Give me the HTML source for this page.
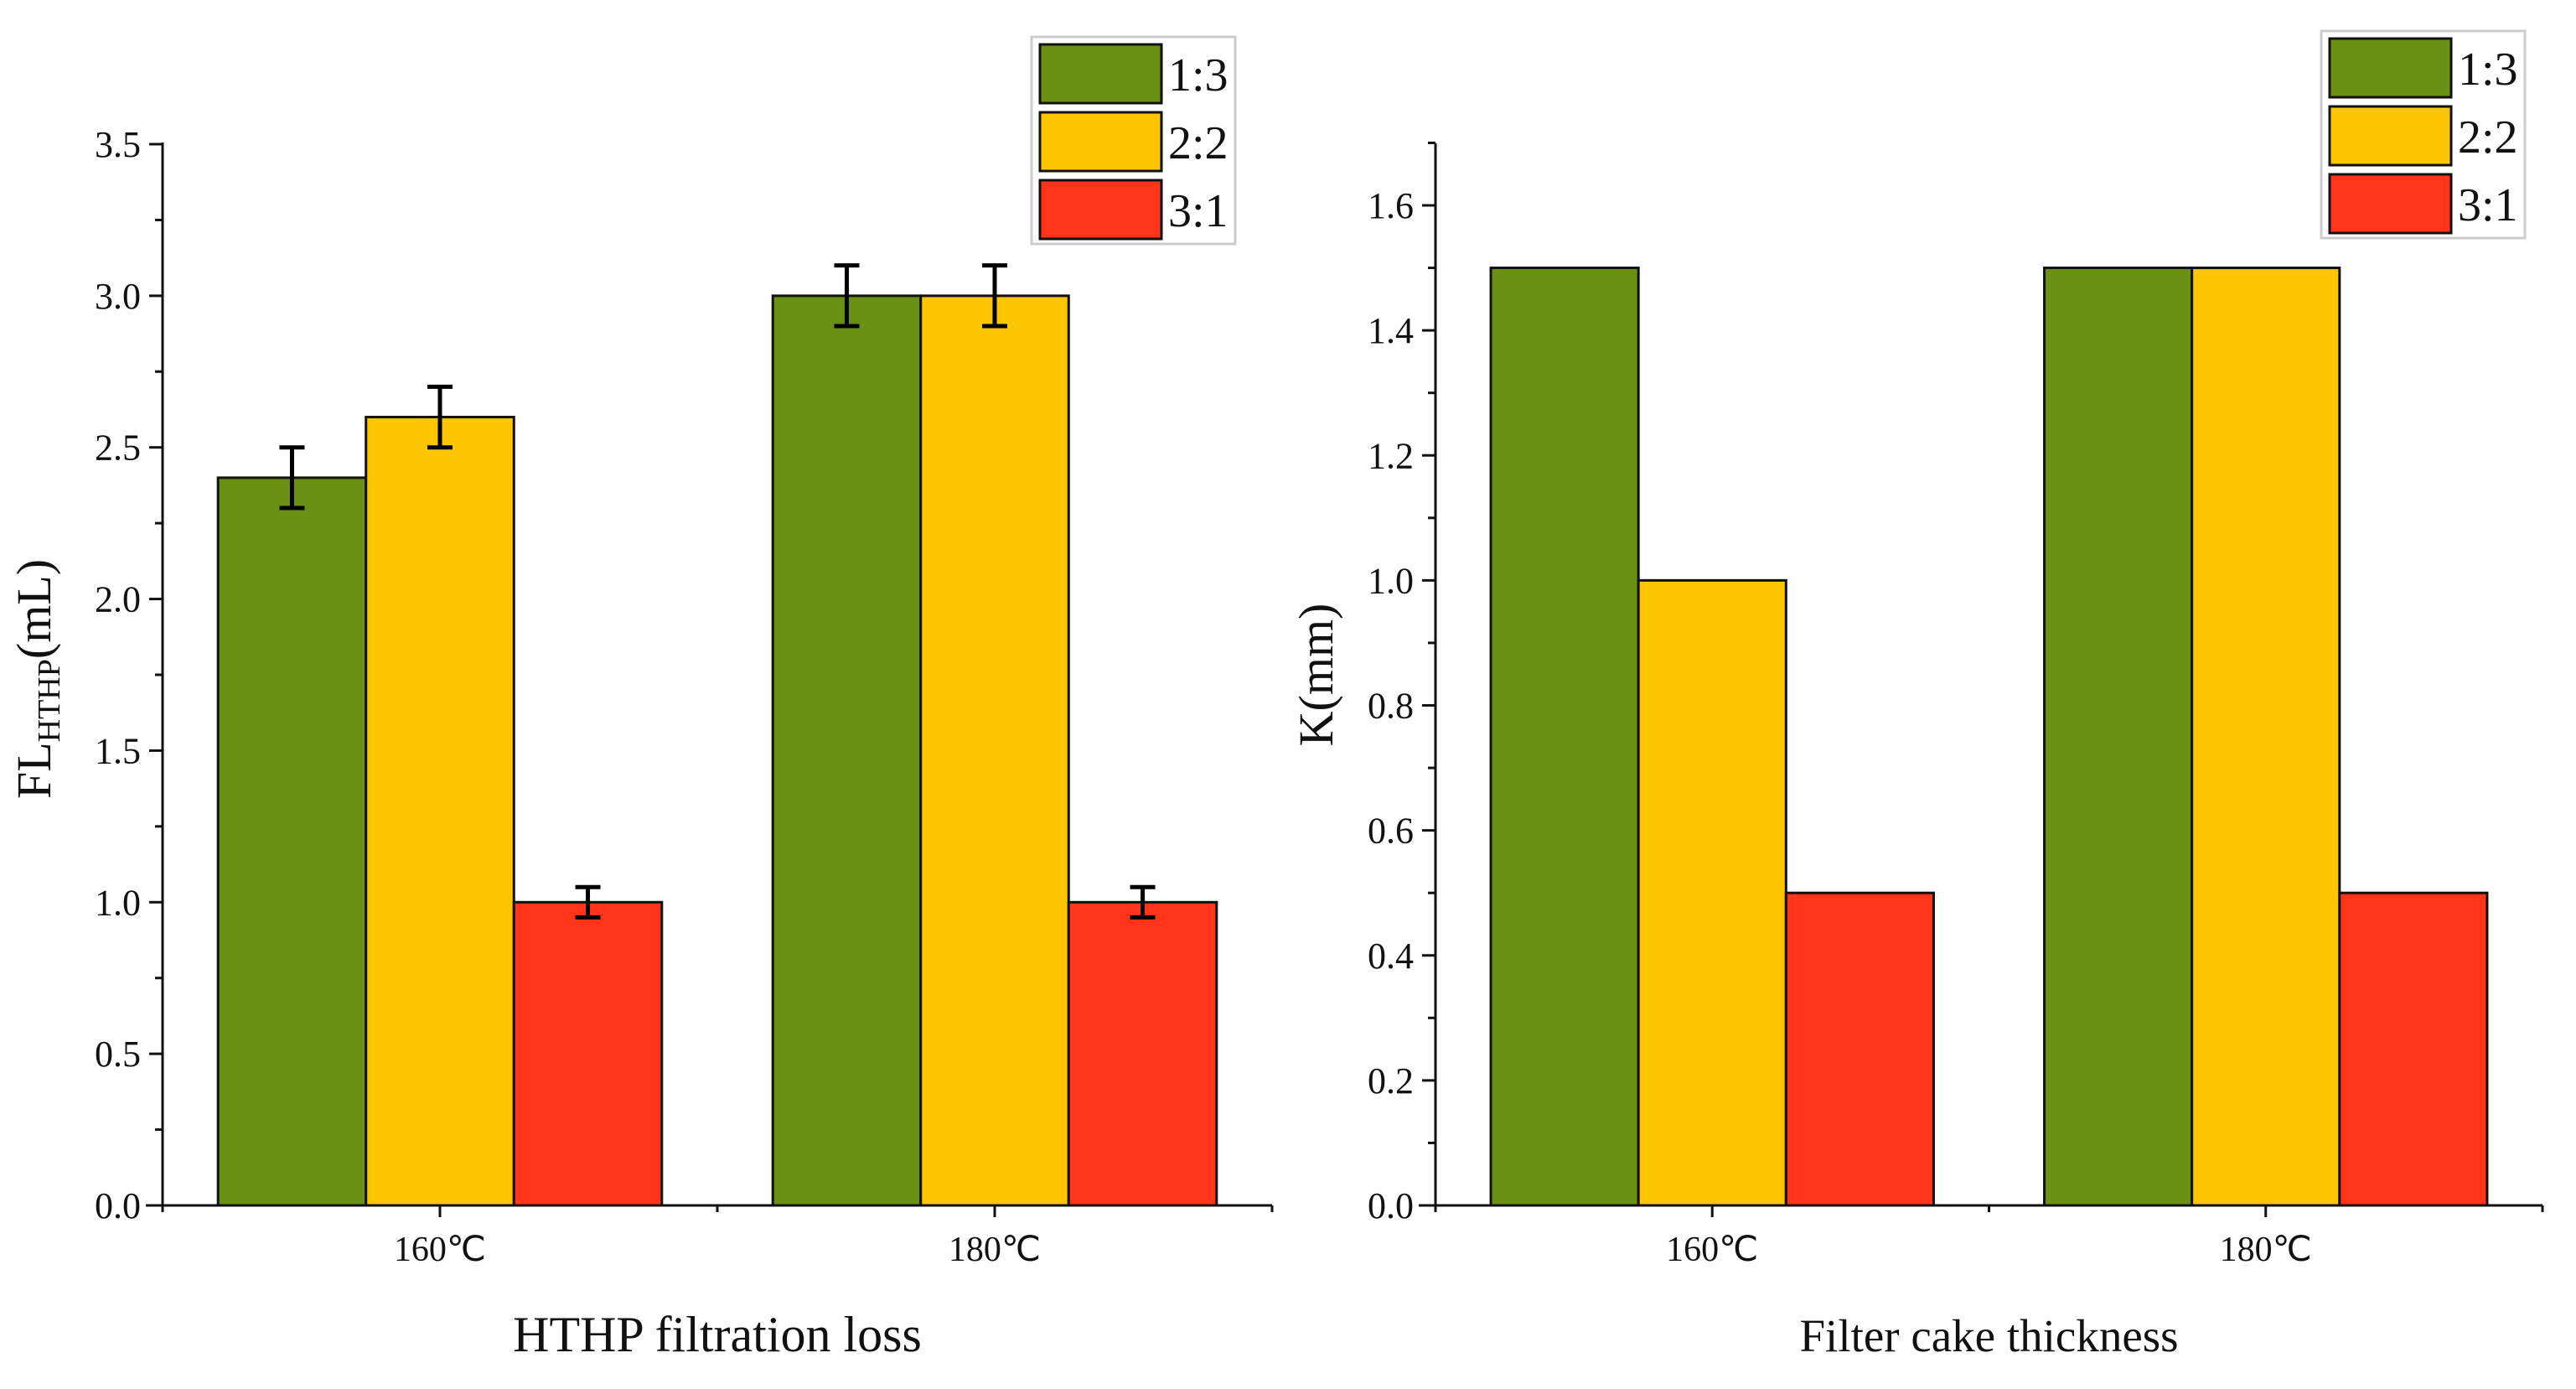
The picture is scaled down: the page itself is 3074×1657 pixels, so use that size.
<!DOCTYPE html>
<html><head><meta charset="utf-8"><style>
html,body{margin:0;padding:0;background:#fff}
svg{display:block}
text{font-family:"Liberation Serif",serif;fill:#111}
</style></head><body>
<svg id="chart" width="3074" height="1657" viewBox="0 0 3074 1657" xmlns="http://www.w3.org/2000/svg">
<rect x="0" y="0" width="3074" height="1657" fill="#fff"/>
</svg>
<script>
const categories = ["160℃", "180℃"];
const seriesNames = ["1:3", "2:2", "3:1"];
const seriesColors = ["#6b9114", "#fdc600", "#ff3419"];
const flValues = [[2.4, 3.0], [2.6, 3.0], [1.0, 1.0]];
const flErrors = [[0.1, 0.1], [0.1, 0.1], [0.05, 0.05]];
const kValues = [[1.5, 1.5], [1.0, 1.5], [0.5, 0.5]];
const flTicks = ["0.0","0.5","1.0","1.5","2.0","2.5","3.0","3.5"];
const kTicks = ["0.0","0.2","0.4","0.6","0.8","1.0","1.2","1.4","1.6"];

const NS = "http://www.w3.org/2000/svg";
const svg = document.getElementById("chart");
function mk(tag, attrs, parent) {
  const e = document.createElementNS(NS, tag);
  for (const k in attrs) e.setAttribute(k, attrs[k]);
  (parent || svg).appendChild(e);
  return e;
}

function drawPanel(p) {
  const g = mk("g", {});
  
  
  const yS = v => p.y0 - (v - 0) / (p.yMax) * (p.y0 - p.yTop);
  const band = (p.x1 - p.x0) / categories.length;
  const xC = i => p.x0 + band * (i + 0.5);
  const bw = band * 0.8 / seriesNames.length;
  for (let s = 0; s < seriesNames.length; s++) {
    for (let i = 0; i < categories.length; i++) {
      const v = p.values[s][i];
      const x = xC(i) - band * 0.4 + s * bw;
      const r = mk("rect", {x: x, y: yS(v), width: bw, height: yS(0) - yS(v), fill: seriesColors[s], stroke: "#111", "stroke-width": 3}, g);
      
      
      if (p.errors) {
        const e = p.errors[s][i];
        const cx = x + bw / 2;
        const eg = mk("g", {stroke: "#000", "stroke-width": 5, fill: "none"}, g);
        
        
        mk("line", {x1: cx, x2: cx, y1: yS(v + e), y2: yS(v - e)}, eg);
        mk("line", {x1: cx - 15, x2: cx + 15, y1: yS(v + e), y2: yS(v + e)}, eg);
        mk("line", {x1: cx - 15, x2: cx + 15, y1: yS(v - e), y2: yS(v - e)}, eg);
      }
    }
  }
  const ya = mk("g", {}, g);
  
  
  mk("line", {x1: p.x0, x2: p.x0, y1: p.axisTop, y2: p.y0 + 1, stroke: "#111", "stroke-width": 3}, ya);
  for (let t = 0; t < p.ticks.length; t++) {
    const v = parseFloat(p.ticks[t]);
    const y = yS(v);
    mk("line", {x1: p.x0 - 16, x2: p.x0, y1: y, y2: y, stroke: "#111", "stroke-width": 3}, ya);
    const tx = mk("text", {x: p.x0 - 26, y: y + 15, "font-size": 44, "text-anchor": "end"}, ya);
    tx.textContent = p.ticks[t];
    
    
    const mv = v + p.step / 2;
    if (yS(mv) >= p.axisTop - 1) {
      mk("line", {x1: p.x0 - 9, x2: p.x0, y1: yS(mv), y2: yS(mv), stroke: "#111", "stroke-width": 3}, ya);
    }
  }
  const xa = mk("g", {}, g);
  
  
  mk("line", {x1: p.x0 - 20, x2: p.x1, y1: p.y0, y2: p.y0, stroke: "#111", "stroke-width": 3}, xa);
  for (let i = 0; i < categories.length; i++) {
    mk("line", {x1: xC(i), x2: xC(i), y1: p.y0, y2: p.y0 + 14, stroke: "#111", "stroke-width": 3}, xa);
    const tx = mk("text", {x: xC(i), y: p.y0 + 66, "font-size": 42, "text-anchor": "middle"}, xa);
    tx.textContent = categories[i];
    
    
  }
  for (let i = 0; i <= categories.length; i++) {
    mk("line", {x1: p.x0 + band * i, x2: p.x0 + band * i, y1: p.y0, y2: p.y0 + 8, stroke: "#111", "stroke-width": 3}, xa);
  }
  const xt = mk("text", {x: (p.x0 + p.x1) / 2, y: p.y0 + 174, "font-size": p.xTitleSize, "text-anchor": "middle"}, g);
  xt.textContent = p.xTitle;
  
  
  const yt = mk("text", {x: 0, y: 0, "font-size": 58, "text-anchor": "middle", transform: "translate(" + p.yTitleX + "," + p.yTitleY + ") rotate(-90)"}, g);
  
  
  if (p.sub) {
    const a = mk("tspan", {}, yt); a.textContent = "FL";
    const b = mk("tspan", {"font-size": 38, dy: 11}, yt); b.textContent = "HTHP";
    const c = mk("tspan", {dy: -11}, yt); c.textContent = "(mL)";
  } else yt.textContent = p.yTitle;
  const lg = mk("g", {}, g);
  
  
  mk("rect", {x: p.lx, y: p.ly, width: 243, height: 247, fill: "#fff", stroke: "#ccc", "stroke-width": 3}, lg);
  for (let s = 0; s < seriesNames.length; s++) {
    const e = mk("g", {}, lg);
    
    
    const ry = p.ly + 9 + s * 81;
    mk("rect", {x: p.lx + 10, y: ry, width: 145, height: 70, fill: seriesColors[s], stroke: "#111", "stroke-width": 3}, e);
    const t = mk("text", {x: p.lx + 163, y: ry + 55, "font-size": 56}, e);
    t.textContent = seriesNames[s];
  }
}

drawPanel({name: "hthp-panel", x0: 194, x1: 1518, y0: 1438, yTop: 172, yMax: 3.5, axisTop: 170, step: 0.5,
  values: flValues, errors: flErrors, ticks: flTicks, xTitle: "HTHP filtration loss", xTitleSize: 60, sub: true,
  yTitleX: 60, yTitleY: 810, lx: 1231, ly: 44});
drawPanel({name: "cake-panel", x0: 1713, x1: 3034, y0: 1438, yTop: 245, yMax: 1.6, axisTop: 171, step: 0.2,
  values: kValues, errors: null, ticks: kTicks, xTitle: "Filter cake thickness", xTitleSize: 55, sub: false, yTitle: "K(mm)",
  yTitleX: 1590, yTitleY: 805, lx: 2770, ly: 37});
</script>
</body></html>
